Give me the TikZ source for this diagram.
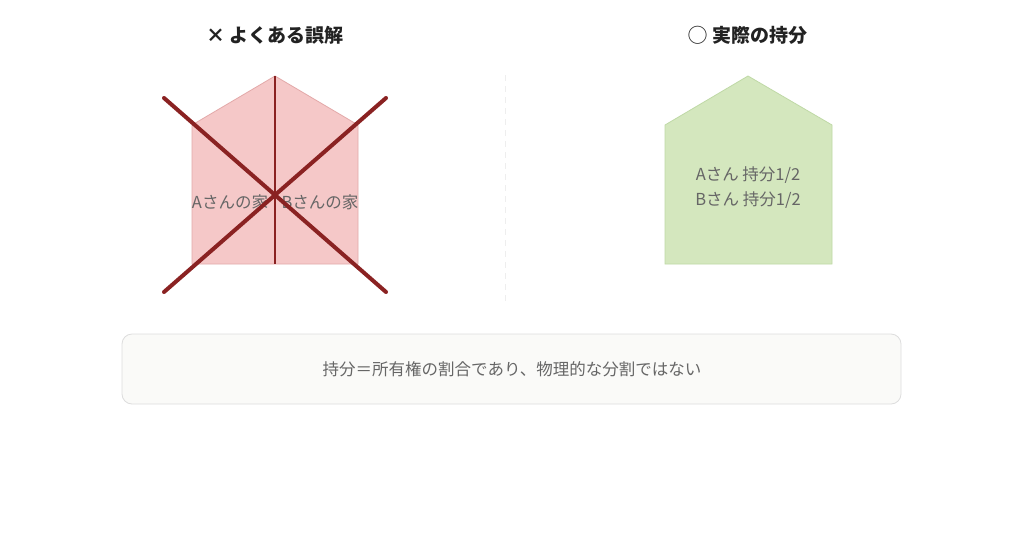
\documentclass[tikz,border=0pt]{standalone}
\usepackage{fontspec}
\setmainfont{Noto Sans CJK JP}
\newfontfamily\cjk{Noto Sans CJK JP}
\definecolor{wrongfill}{HTML}{F5C8C8}
\definecolor{wrongline}{HTML}{E3A9A9}
\definecolor{cross}{HTML}{8A2222}
\definecolor{okfill}{HTML}{D4E7BE}
\definecolor{okline}{HTML}{BFD9A6}
\definecolor{titlec}{HTML}{222222}
\definecolor{textc}{HTML}{666666}
\definecolor{boxfill}{HTML}{FAFAF8}
\definecolor{boxline}{HTML}{DDDDDD}
\definecolor{divider}{HTML}{EEEEEE}
\tikzset{
  titletext/.style={font=\cjk\bfseries\fontsize{19}{22}\selectfont, text=titlec, inner sep=0pt},
  bodytext/.style={font=\cjk\fontsize{16.5}{25}\selectfont, text=textc, inner sep=0pt, align=center},
  crossline/.style={draw=cross, line width=4pt, line cap=round},
  midline/.style={draw=cross, line width=2.5pt},
}
\begin{document}
\begin{tikzpicture}[x=1pt,y=-1pt]
\useasboundingbox (0,0) rectangle (1024,557);
\fill[white] (0,0) rectangle (1024,557);
% titles
\node[titletext] (t1) at (275,35) {× よくある誤解};
\node[titletext] (t2) at (748,35) {◯ 実際の持分};
% divider
\coordinate (d1) at (505,75);
\coordinate (d2) at (505,305);
\draw[divider, line width=1pt, dash pattern=on 6pt off 5pt] (d1) -- (d2);
% left house
\draw[fill=wrongfill, draw=wrongline, line width=0.8pt] (275,76) -- (358,125) -- (358,264) -- (192,264) -- (192,125) -- cycle;
\coordinate (top) at (275,76);
\coordinate (bot) at (275,264);
\draw[midline] (top) -- (bot);
\node[bodytext] (ha) at (230,202) {Aさんの家};
\node[bodytext] (hb) at (320,202) {Bさんの家};
\coordinate (x1) at (164,98);
\coordinate (x2) at (386,292);
\coordinate (x3) at (386,98);
\coordinate (x4) at (164,292);
\draw[crossline] (x1) -- (x2);
\draw[crossline] (x3) -- (x4);
% right house
\draw[fill=okfill, draw=okline, line width=0.8pt] (748,76) -- (832,125) -- (832,264) -- (665,264) -- (665,125) -- cycle;
\node[bodytext] (share) at (748,188) {Aさん 持分1/2\\ Bさん 持分1/2};
% bottom note
\draw[fill=boxfill, draw=boxline, line width=0.8pt, rounded corners=10pt] (122,334) rectangle (901,404);
\node[bodytext] (note) at (512,369) {持分＝所有権の割合であり、物理的な分割ではない};
\end{tikzpicture}
\end{document}
